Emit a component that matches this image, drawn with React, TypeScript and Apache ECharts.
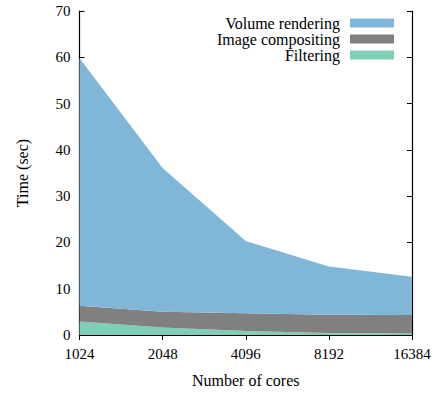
import React, { useEffect, useRef } from "react";
import * as echarts from "echarts";

const categories = ["1024", "2048", "4096", "8192", "16384"];
const filtering = [2.9, 1.6, 0.85, 0.45, 0.3];
const compositing = [3.4, 3.45, 3.85, 3.9, 4.0];
const volumeRendering = [53.5, 31.05, 15.6, 10.45, 8.3];
const seriesNames = ["Volume rendering", "Image compositing", "Filtering"];

const FONT = "Liberation Serif";
const FS = 15;

export default function App() {
  const ref = useRef<HTMLDivElement>(null);
  useEffect(() => {
    if (!ref.current) return;
    const chart = echarts.init(ref.current, null, { renderer: "svg" });
    const tick = { show: true, inside: true, length: 5, lineStyle: { color: "#000", width: 1 } };
    const axisLine = { show: true, lineStyle: { color: "#000", width: 1.2 } };
    const txt = (size: number) => ({ fontFamily: FONT, fontSize: size, color: "#000", fontWeight: "normal" as const });
    const mkSeries = (name: string, data: number[], color: string) => ({
      name,
      type: "line",
      stack: "total",
      data,
      symbol: "none",
      showSymbol: false,
      lineStyle: { width: 0 },
      itemStyle: { color },
      areaStyle: { color, opacity: 1 },
    });
    chart.setOption({
      animation: false,
      textStyle: { fontFamily: FONT },
      grid: { left: 79.5, right: 25, top: 11, bottom: 50, containLabel: false },
      legend: {
        data: seriesNames,
        orient: "vertical",
        align: "right",
        right: 43,
        top: 15,
        padding: 0,
        itemGap: 0,
        itemWidth: 44,
        itemHeight: 9,
        icon: "rect",
        textStyle: { ...txt(16), lineHeight: 16, padding: [0, 5, 0, 0] },
      },
      xAxis: [
        {
          type: "category",
          data: categories,
          boundaryGap: false,
          name: "Number of cores",
          nameLocation: "middle",
          nameGap: 37,
          nameTextStyle: txt(16),
          axisLine,
          axisTick: tick,
          axisLabel: { ...txt(FS), margin: 11 },
          splitLine: { show: false },
        },
        {
          type: "category",
          data: categories,
          boundaryGap: false,
          position: "top",
          axisLine,
          axisTick: tick,
          axisLabel: { show: false },
          splitLine: { show: false },
        },
      ],
      yAxis: [
        {
          type: "value",
          min: 0,
          max: 70,
          interval: 10,
          name: "Time (sec)",
          nameLocation: "middle",
          nameGap: 49,
          nameTextStyle: txt(16),
          axisLine,
          axisTick: tick,
          axisLabel: { ...txt(FS), margin: 9 },
          splitLine: { show: false },
        },
        {
          type: "value",
          min: 0,
          max: 70,
          interval: 10,
          position: "right",
          axisLine,
          axisTick: tick,
          axisLabel: { show: false },
          splitLine: { show: false },
        },
      ],
      series: [
        mkSeries(seriesNames[2], filtering, "#7fcfb8"),
        mkSeries(seriesNames[1], compositing, "#808080"),
        mkSeries(seriesNames[0], volumeRendering, "#80b7d9"),
      ],
    });
    return () => chart.dispose();
  }, []);
  return <div ref={ref} style={{ width: 437, height: 393, position: "absolute", left: 0, top: 0 }} />;
}
